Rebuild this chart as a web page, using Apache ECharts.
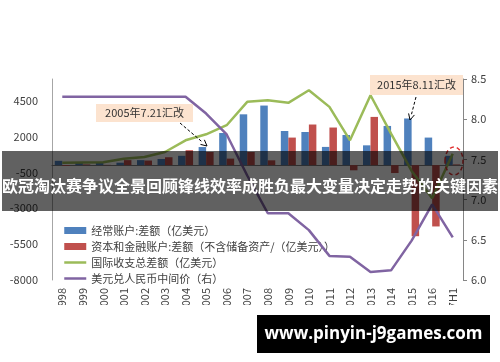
<!DOCTYPE html>
<html><head><meta charset="utf-8">
<script src="https://cdn.jsdelivr.net/npm/echarts@6/dist/echarts.min.js"></script>
<style>html,body{margin:0;padding:0;background:#fff}#c{width:500px;height:362px}</style>
</head><body><div id="c"></div>
<script>
const categories = ['1998','1999','2000','2001','2002','2003','2004','2005','2006','2007','2008','2009','2010','2011','2012','2013','2014','2015','2016','2017H1'];
const currentAccount = [300, 210, 200, 170, 350, 430, 650, 1260, 2240, 3540, 4150, 2380, 2310, 1270, 2100, 1380, 2730, 3250, 1920, 650];
const capitalAccount = [-60, 50, 20, 350, 320, 550, 1040, 915, 455, 915, 335, 1920, 2830, 2620, -360, 3360, -550, -4950, -4270, 50];
const totalBalance = [175, 190, 200, 450, 570, 915, 1730, 2150, 2780, 4410, 4520, 4340, 5220, 4060, 1730, 4870, 2200, -400, -2300, 800];
const usdCny = [8.28, 8.28, 8.28, 8.28, 8.28, 8.28, 8.28, 8.07, 7.81, 7.30, 6.83, 6.83, 6.62, 6.30, 6.29, 6.10, 6.12, 6.49, 6.94, 6.53];
const seriesNames = ['经常账户:差额（亿美元）', '资本和金融账户:差额（不含储备资产/（亿美元））', '国际收支总差额（亿美元）', '美元兑人民币中间价（右）'];
const leftTicks = {min: -8000, max: 6000, interval: 2500};
const rightTicks = {min: 6.0, max: 8.5, interval: 0.5};
const notes = ['2005年7.21汇改', '2015年8.11汇改'];
const titleText = '欧冠淘汰赛争议全景回顾锋线效率成胜负最大变量决定走势的关键因素';
const watermark = 'www.pinyin-j9games.com';

const FONT = '"Noto Sans CJK SC", "Noto Sans", sans-serif';
const chart = echarts.init(document.getElementById('c'), null, {renderer: 'canvas'});

function arrow(x1, y1, x2, y2) {
  const ang = Math.atan2(y2 - y1, x2 - x1);
  const L = 6, W = 3;
  const bx = x2 - L * Math.cos(ang), by = y2 - L * Math.sin(ang);
  return [
    {type: 'line', shape: {x1, y1, x2: bx, y2: by}, style: {stroke: '#000', lineWidth: 1, lineDash: [3, 2]}, z: 50},
    {type: 'polyline', shape: {points: [[bx - W * Math.sin(ang), by + W * Math.cos(ang)], [x2, y2], [bx + W * Math.sin(ang), by - W * Math.cos(ang)]]}, style: {stroke: '#000', lineWidth: 1, fill: null}, z: 50}
  ];
}

chart.setOption({
  animation: false,
  textStyle: {fontFamily: FONT},
  grid: {left: 52, right: 37, top: 79, bottom: 82, containLabel: false},
  legend: {
    orient: 'vertical', left: 58, top: 220, itemGap: 5, itemWidth: 22, itemHeight: 7,
    textStyle: {fontSize: 11, color: '#404040', fontFamily: FONT},
    data: [
      {name: seriesNames[0], icon: 'rect'},
      {name: seriesNames[1], icon: 'rect'},
      {name: seriesNames[2], itemStyle: {opacity: 0}, lineStyle: {width: 2.5}},
      {name: seriesNames[3], itemStyle: {opacity: 0}, lineStyle: {width: 2.5}}
    ]
  },
  xAxis: [
    {
      type: 'category', data: categories, position: 'bottom',
      axisLine: {show: false, onZero: false}, axisTick: {show: false},
      axisLabel: {rotate: 90, fontSize: 11, color: '#404040', margin: 8, interval: 0}
    },
    {
      type: 'category', data: categories, position: 'bottom',
      axisLine: {show: true, onZero: true, onZeroAxisIndex: 0, lineStyle: {color: '#7f7f7f', width: 1}},
      axisTick: {show: false}, axisLabel: {show: false}
    }
  ],
  yAxis: [
    {
      type: 'value', min: leftTicks.min, max: leftTicks.max, interval: leftTicks.interval,
      axisLine: {show: true, lineStyle: {color: '#a6a6a6'}}, axisTick: {show: false},
      splitLine: {show: false},
      axisLabel: {fontSize: 11, color: '#404040', margin: 14, showMaxLabel: false, formatter: v => String(v)}
    },
    {
      type: 'value', min: rightTicks.min, max: rightTicks.max, interval: rightTicks.interval, position: 'right',
      axisLine: {show: true, lineStyle: {color: '#868686'}}, axisTick: {show: true, length: 4, lineStyle: {color: '#868686'}},
      splitLine: {show: false},
      axisLabel: {fontSize: 11, color: '#404040', margin: 8, formatter: v => v.toFixed(1)}
    }
  ],
  series: [
    {name: seriesNames[0], type: 'bar', data: currentAccount, barWidth: 7.5, barGap: '0%', itemStyle: {color: '#4f81bd'}, z: 2},
    {name: seriesNames[1], type: 'bar', data: capitalAccount, barWidth: 7.5, barGap: '0%', itemStyle: {color: '#c0504d'}, z: 2},
    {name: seriesNames[2], type: 'line', data: totalBalance, symbol: 'none', lineStyle: {color: '#9bbb59', width: 2.5}, itemStyle: {color: '#9bbb59'}, z: 3},
    {name: seriesNames[3], type: 'line', yAxisIndex: 1, data: usdCny, symbol: 'none', lineStyle: {color: '#8064a2', width: 2.5}, itemStyle: {color: '#8064a2'}, z: 4}
  ],
  graphic: [
    {type: 'rect', shape: {x: 96, y: 104, width: 97, height: 18}, style: {fill: '#fce3cf'}, z: 40},
    {type: 'text', x: 144.5, y: 113, style: {text: notes[0], fontSize: 11, fill: '#333', align: 'center', verticalAlign: 'middle', fontFamily: FONT}, z: 41},
    ...arrow(180, 123, 207, 146),
    {type: 'rect', shape: {x: 370, y: 75, width: 93, height: 20}, style: {fill: '#fce3cf'}, z: 40},
    {type: 'text', x: 416.5, y: 85, style: {text: notes[1], fontSize: 11, fill: '#333', align: 'center', verticalAlign: 'middle', fontFamily: FONT}, z: 41},
    ...arrow(416, 97, 410, 120),
    {type: 'ellipse', shape: {cx: 454, cy: 161, rx: 9, ry: 14}, style: {fill: null, stroke: '#e03030', lineWidth: 1.5, lineDash: [4, 3]}, z: 45},
    {type: 'rect', shape: {x: 0, y: 305, width: 500, height: 57}, style: {fill: '#fff'}, z: 60},
    {type: 'rect', shape: {x: 2, y: 151, width: 496, height: 60}, style: {fill: 'rgba(0,0,0,0.62)'}, z: 70},
    {type: 'text', x: 250, y: 186, style: {text: titleText, fontSize: 16, fontWeight: 'bold', fill: '#fff', align: 'center', verticalAlign: 'middle', fontFamily: FONT}, z: 71},
    {type: 'rect', shape: {x: 257, y: 315, width: 233, height: 38}, style: {fill: '#000'}, z: 70},
    {type: 'text', x: 373.5, y: 334, style: {text: watermark, fontSize: 17, fontWeight: 'bold', fill: '#fff', align: 'center', verticalAlign: 'middle', fontFamily: '"Open Sans", "DejaVu Sans", sans-serif'}, z: 71}
  ]
});
</script>
</body></html>
